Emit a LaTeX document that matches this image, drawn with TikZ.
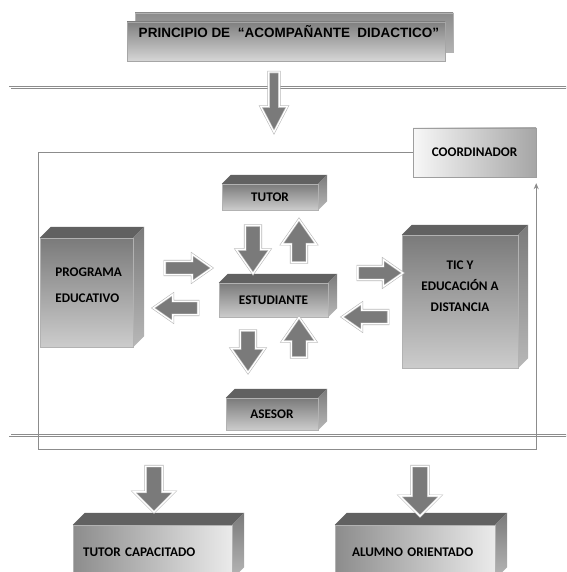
\documentclass[tikz,border=0pt]{standalone}
\usepackage{fontspec}
\setmainfont{Carlito}
\newfontfamily\titlefont{Liberation Sans}
\usetikzlibrary{shapes.arrows,arrows.meta}

\tikzset{
  boxtext/.style={font=\bfseries\fontsize{13.2}{15}\selectfont, text=black},
  titletext/.style={font=\titlefont\bfseries\fontsize{13.5}{16}\selectfont, text=black},
  cuboid/.style={boxtext, draw=black!30, inner sep=0pt, top color=black!52, bottom color=black!20,
    append after command={\pgfextra{
      \fill[black!62] (\tikzlastnode.north west) -- ++(#1,-#1) -- ([shift={(#1,-#1)}]\tikzlastnode.north east) -- (\tikzlastnode.north east) -- cycle;
      \shade[top color=black!52, bottom color=black!28] (\tikzlastnode.north east) -- ++(#1,-#1) -- ([shift={(#1,-#1)}]\tikzlastnode.south east) -- (\tikzlastnode.south east) -- cycle;}}},
  flatbox/.style={boxtext, draw=black!38, inner sep=0pt},
  blockarrow/.style={single arrow, draw=black!28, line width=0.6pt, double=white, double distance=1.3pt,
    fill=black!52, single arrow tip angle=70},
  frameline/.style={draw=black!45, line width=0.6pt, double=white, double distance=1.3pt},
  loopline/.style={draw=black!45, line width=0.8pt}
}

\begin{document}
\begin{tikzpicture}[x=1pt, y=-1pt]
\useasboundingbox (0,0) rectangle (566,572);
\clip (0,0) rectangle (566,572);
\draw[frameline] (575,87.3) -| (10,435.5) -- (575,435.5);
\node[flatbox, left color=black!3, right color=black!35, minimum width=123, minimum height=49] (coord) at (474.5,152.5) {COORDINADOR};
\coordinate (loopcorner) at (38,449);
\draw[loopline, -{Stealth[length=6pt, width=5pt]}, shorten >=6pt] (coord.west) -| (loopcorner) -| (coord.south east);
\node[draw=black!30, top color=black!45, bottom color=black!30, minimum width=318, minimum height=39] (titleshadow) at (294,32.5) {};
\node[draw=black!35, top color=black!50, bottom color=black!16, minimum width=318, minimum height=39,
  label={[titletext, xshift=3, yshift=9.5]center:PRINCIPIO DE\ \ “ACOMPAÑANTE\ \ DIDACTICO”}] (title) at (286,41.5) {};
\node[blockarrow, shape border rotate=270, minimum height=60, inner sep=5, single arrow head extend=8, single arrow tip angle=55] (toparrow) at (274,97) {};
\node[cuboid=9, minimum width=96, minimum height=26] (tutor) at (270,197) {TUTOR};
\node[cuboid=9, minimum width=109, minimum height=34] (est) at (273.5,300) {ESTUDIANTE};
\node[cuboid=9, minimum width=92, minimum height=32] (asesor) at (272,414) {ASESOR};
\node[cuboid=11, minimum width=93, minimum height=109,
  label={[boxtext, align=left, anchor=west, xshift=12, yshift=7]west:{PROGRAMA\\[11pt]EDUCATIVO}}] (prog) at (86.5,292.5) {};
\node[cuboid=10, minimum width=116, minimum height=133,
  label={[boxtext, align=center, yshift=15.5]center:{TIC Y\\[6pt]EDUCACIÓN A\\[6pt]DISTANCIA}}] (tic) at (460,301.5) {};
\node[cuboid=12, left color=black!45, right color=black!8, minimum width=159, minimum height=54, inner xsep=10, text width=139, align=left] (tutorcap) at (152.5,552) {TUTOR CAPACITADO};
\node[cuboid=12, left color=black!45, right color=black!8, minimum width=160, minimum height=54, inner xsep=17, text width=126, align=left] (alumno) at (415,552) {ALUMNO ORIENTADO};
\node[blockarrow, shape border rotate=270, minimum height=48, inner sep=7.5, single arrow head extend=9] (tutordown) at (253,244) {};
\node[blockarrow, shape border rotate=90, minimum height=43, inner sep=7.5, single arrow head extend=9.5] (tutorup) at (299,246.5) {};
\node[blockarrow, shape border rotate=270, minimum height=42, inner sep=7.5, single arrow head extend=9] (asesordown) at (248,346) {};
\node[blockarrow, shape border rotate=90, minimum height=40, inner sep=7.5, single arrow head extend=9] (asesorup) at (299,343) {};
\node[blockarrow, minimum height=47, inner sep=6.5, single arrow head extend=7] (progright) at (183.5,268) {};
\node[blockarrow, shape border rotate=180, minimum height=45, inner sep=6.5, single arrow head extend=7] (progleft) at (180.5,308) {};
\node[blockarrow, minimum height=45, inner sep=6.5, single arrow head extend=7] (ticright) at (375.5,273) {};
\node[blockarrow, shape border rotate=180, minimum height=46, inner sep=6.5, single arrow head extend=7] (ticleft) at (370,317) {};
\node[blockarrow, shape border rotate=270, minimum height=46, inner sep=8, single arrow head extend=12, single arrow tip angle=90] (capdown) at (154,485) {};
\node[blockarrow, shape border rotate=270, minimum height=50, inner sep=8, single arrow head extend=12, single arrow tip angle=90] (oridown) at (420,487) {};
\end{tikzpicture}
\end{document}
